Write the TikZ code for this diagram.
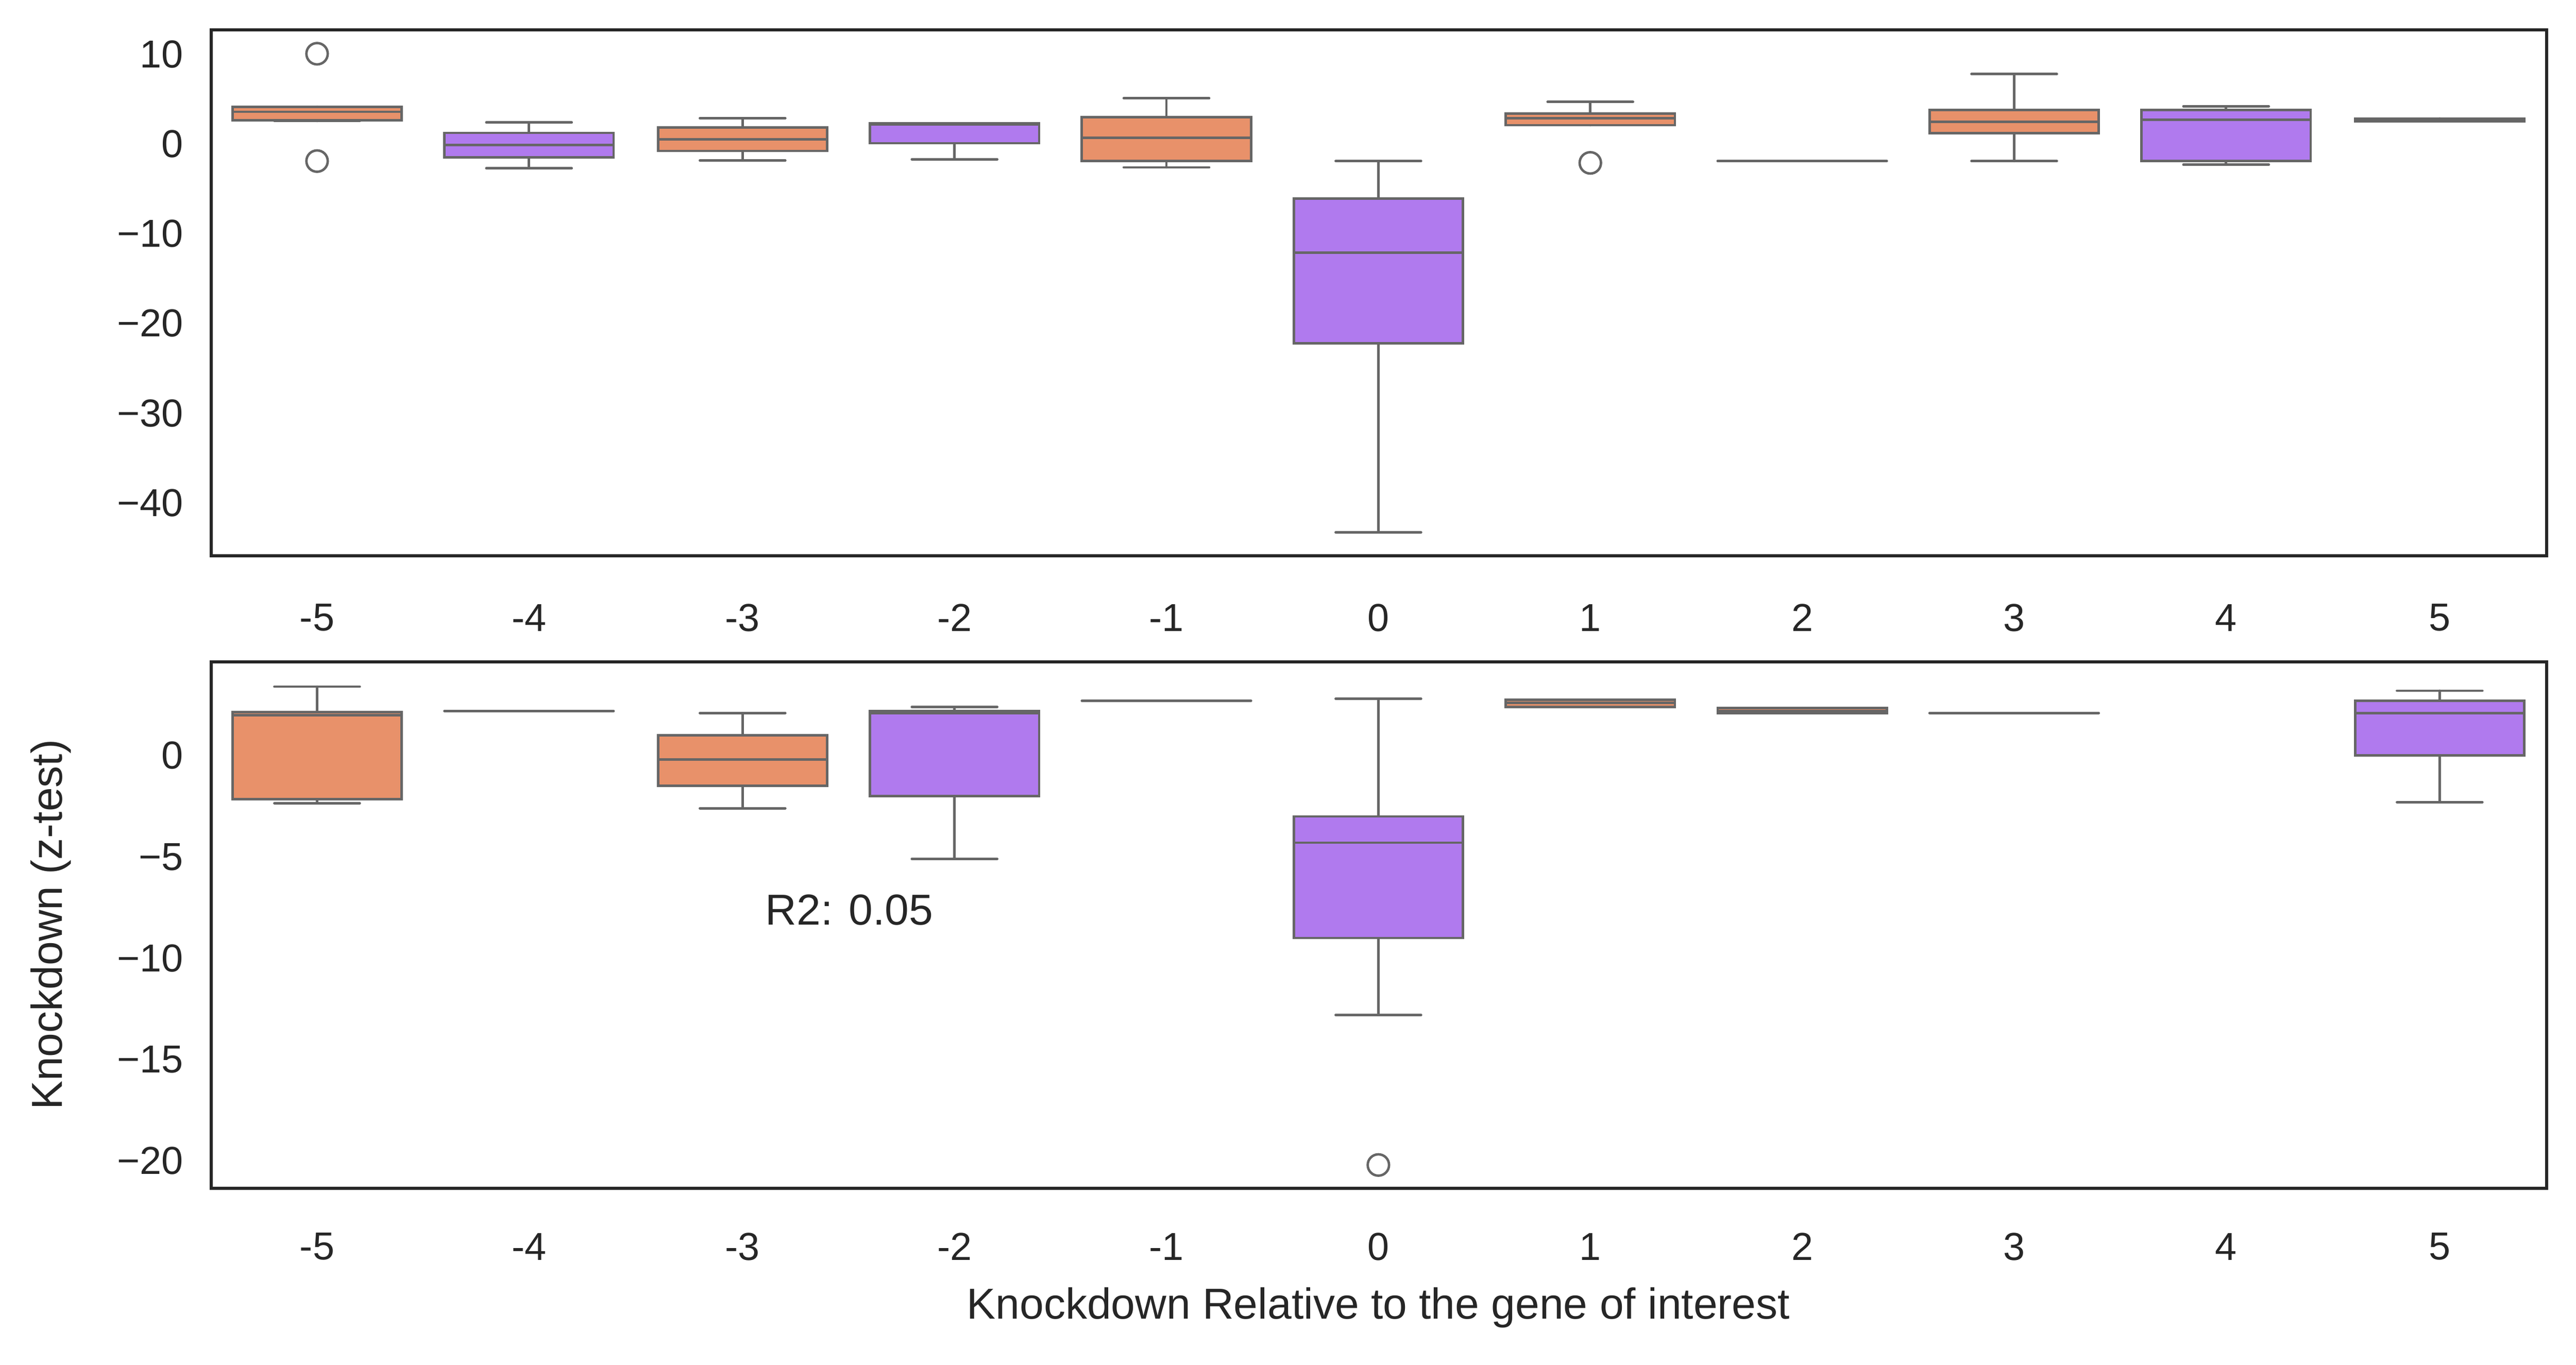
\documentclass[tikz,border=0pt]{standalone}
\usepackage{fontspec}
\setmainfont{Liberation Sans}
\definecolor{orng}{HTML}{E8916A}
\definecolor{purp}{HTML}{B07AEE}
\definecolor{edge}{HTML}{666666}
\definecolor{frame}{HTML}{262626}
\tikzset{
  bxs/.style={draw=edge, line width=0.85pt},
  wsk/.style={draw=edge, line width=0.85pt, line cap=round},
  frm/.style={draw=frame, line width=1.1pt},
  tlab/.style={font=\fontsize{13.5}{15}\selectfont, text=frame, inner sep=0pt},
  alab/.style={font=\fontsize{15}{17}\selectfont, text=frame, inner sep=0pt},
  outl/.style={draw=edge, line width=0.85pt, fill=white}
}
% #1 x, #2 y0, #3 scale, #4 q3, #5 q1, #6 med, #7 whi, #8 wlo, #9 color
\newcommand{\bplot}[9]{%
  \draw[wsk] ({#1},{#2-#3*#7}) -- ({#1},{#2-#3*#4});
  \draw[wsk] ({#1},{#2-#3*#8}) -- ({#1},{#2-#3*#5});
  \draw[wsk] ({#1-26},{#2-#3*#7}) -- ({#1+26},{#2-#3*#7});
  \draw[wsk] ({#1-26},{#2-#3*#8}) -- ({#1+26},{#2-#3*#8});
  \draw[bxs, fill=#9] ({#1-51.5},{#2-#3*#4}) rectangle ({#1+51.5},{#2-#3*#5});
  \draw[bxs] ({#1-51.5},{#2-#3*#6}) -- ({#1+51.5},{#2-#3*#6});
}
\newcommand{\flatbox}[4]{% x y0 scale v
  \draw[wsk] ({#1-51.5},{#2-#3*#4}) -- ({#1+51.5},{#2-#3*#4});}
\begin{document}
\begin{tikzpicture}[x=0.02cm,y=-0.02cm]
\useasboundingbox (0,0) rectangle (1568,831);
\def\ta{87.7}\def\sa{5.46}
\def\tb{460}\def\sb{12.34}
% ---------- top panel ----------
\bplot{193}{\ta}{\sa}{4.16}{2.66}{3.6}{4.16}{2.57}{orng}
\draw[outl] (193,{\ta-\sa*10.07}) circle (6.5);
\draw[outl] (193,{\ta+\sa*1.9}) circle (6.5);
\bplot{322}{\ta}{\sa}{1.25}{-1.5}{-0.1}{2.4}{-2.7}{purp}
\bplot{452}{\ta}{\sa}{1.85}{-0.77}{0.52}{2.87}{-1.84}{orng}
\bplot{581}{\ta}{\sa}{2.3}{0.1}{2.2}{2.3}{-1.7}{purp}
\bplot{710}{\ta}{\sa}{3.0}{-1.9}{0.7}{5.1}{-2.6}{orng}
\bplot{839}{\ta}{\sa}{-6.1}{-22.2}{-12.1}{-1.9}{-43.3}{purp}
\bplot{968}{\ta}{\sa}{3.4}{2.1}{2.9}{4.7}{2.1}{orng}
\draw[outl] (968,{\ta+\sa*2.1}) circle (6.5);
\flatbox{1097}{\ta}{\sa}{-1.9}
\bplot{1226}{\ta}{\sa}{3.8}{1.2}{2.5}{7.8}{-1.9}{orng}
\bplot{1355}{\ta}{\sa}{3.8}{-1.9}{2.7}{4.2}{-2.3}{purp}
\bplot{1485}{\ta}{\sa}{2.85}{2.55}{2.7}{2.85}{2.55}{orng}
\draw[frm] (128.6,18.3) rectangle (1550,338.4);
\foreach \v/\t in {10/10,0/0,-10/−10,-20/−20,-30/−30,-40/−40}
  \node[tlab, anchor=east] (ya\v) at (112,{\ta-\sa*\v}) {\t};
% ---------- bottom panel ----------
\bplot{193}{\tb}{\sb}{2.15}{-2.15}{2.0}{3.4}{-2.35}{orng}
\flatbox{322}{\tb}{\sb}{2.2}
\bplot{452}{\tb}{\sb}{1.0}{-1.5}{-0.2}{2.1}{-2.6}{orng}
\bplot{581}{\tb}{\sb}{2.2}{-2.0}{2.1}{2.4}{-5.1}{purp}
\flatbox{710}{\tb}{\sb}{2.7}
\bplot{839}{\tb}{\sb}{-3.0}{-9.0}{-4.3}{2.8}{-12.8}{purp}
\draw[outl] (839,{\tb+\sb*20.2}) circle (6.5);
\bplot{968}{\tb}{\sb}{2.75}{2.4}{2.6}{2.75}{2.4}{orng}
\bplot{1097}{\tb}{\sb}{2.35}{2.1}{2.2}{2.35}{2.1}{orng}
\flatbox{1226}{\tb}{\sb}{2.1}
\bplot{1485}{\tb}{\sb}{2.7}{0}{2.1}{3.2}{-2.3}{purp}
\node[alab] (r2) at (517,554) {R2: 0.05};
\draw[frm] (128.6,403) rectangle (1550,723.5);
\foreach \v/\t in {0/0,-5/−5,-10/−10,-15/−15,-20/−20}
  \node[tlab, anchor=east] (yb\v) at (112,{\tb-\sb*\v}) {\t};
% ---------- x tick labels ----------
\foreach \i/\x in {-5/193,-4/322,-3/452,-2/581,-1/710,0/839,1/968,2/1097,3/1226,4/1355,5/1485}{
  \node[tlab] (xa\i) at (\x,376) {\i};
  \node[tlab] (xb\i) at (\x,759) {\i};
}
\node[alab] (xl) at (839,796) {Knockdown Relative to the gene of interest};
\node[alab, rotate=90] (yl) at (31,563) {Knockdown (z-test)};
\end{tikzpicture}
\end{document}
